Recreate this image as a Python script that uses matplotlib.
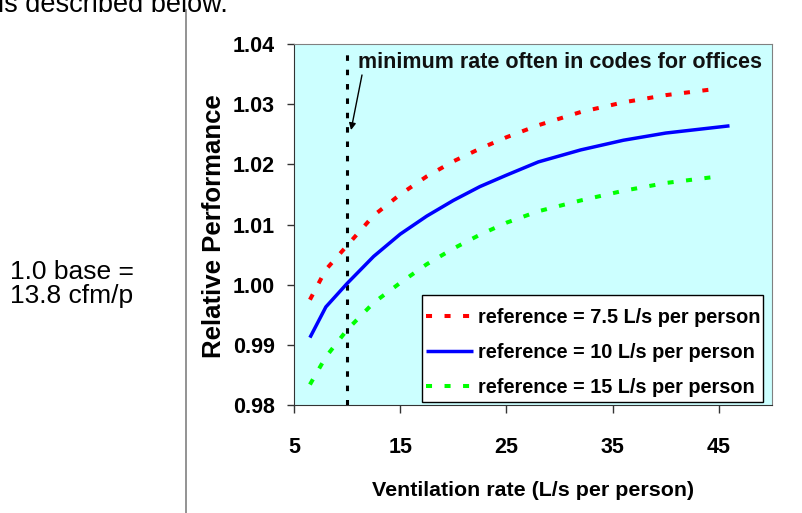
import matplotlib
matplotlib.use("Agg")
import matplotlib.pyplot as plt
from matplotlib.patches import Rectangle

plt.rcParams["font.family"] = ["Liberation Sans", "DejaVu Sans"]

# ventilation rate (L/s per person) and relative performance for three reference rates
vent_10 = [6.5, 8, 10, 12.5, 15, 17.5, 20, 22.5, 25, 28, 32, 36, 40, 46]
perf_10 = [0.9912, 0.9963, 1.0002, 1.0047, 1.0084, 1.0114, 1.0140, 1.0163,
           1.0182, 1.0204, 1.0224, 1.0240, 1.0252, 1.0264]

vent_75 = [6.5, 8, 10, 12.5, 15, 17.5, 20, 22.5, 25, 28, 32, 36, 40, 45]
perf_75 = [0.9975, 1.0025, 1.0065, 1.0115, 1.0150, 1.0180, 1.0205, 1.0226,
           1.0245, 1.0265, 1.0287, 1.0303, 1.0315, 1.0326]

vent_15 = [6.5, 8, 10, 12.5, 15, 17.5, 20, 22.5, 25, 28, 32, 36, 40, 45]
perf_15 = [0.9834, 0.9880, 0.9925, 0.9970, 1.0003, 1.0034, 1.0060, 1.0083,
           1.0103, 1.0122, 1.0140, 1.0156, 1.0169, 1.0180]

code_min = 10
xticks = [5, 15, 25, 35, 45]
yticks = [0.98, 0.99, 1.00, 1.01, 1.02, 1.03, 1.04]

fig = plt.figure(figsize=(8.03, 5.13), dpi=100)
ax = fig.add_axes([294 / 803, 1 - 405 / 513, (772 - 294) / 803, (405 - 44) / 513])
ax.set_facecolor("#CCFFFF")

ax.plot(vent_75, perf_75, color="#FF0000", lw=2.9, dashes=(1.5, 3.1),
        label="reference = 7.5 L/s per person", zorder=3)
ax.plot(vent_10, perf_10, color="#0000FF", lw=2.5, solid_capstyle="butt",
        label="reference = 10 L/s per person", zorder=3)
ax.plot(vent_15, perf_15, color="#00FF00", lw=2.9, dashes=(1.5, 3.1),
        label="reference = 15 L/s per person", zorder=3)

ax.axvline(code_min, ymin=0, ymax=0.975, color="black", lw=2.2,
           dashes=(1.8, 2.9), zorder=2)

ax.text(11.03, 1.0370, "minimum rate often in codes for offices",
        fontsize=15.5, fontweight="bold", ha="left", va="center", color="#111")
ax.annotate("", xy=(10.37, 1.0257), xytext=(11.40, 1.03485),
            arrowprops=dict(arrowstyle="-|>", color="black", lw=1.0,
                            mutation_scale=10, shrinkA=0, shrinkB=0))

ax.set_xlim(5, 50)
ax.set_ylim(0.98, 1.04)
ax.set_xticks(xticks)
ax.set_xticklabels([str(v) for v in xticks], fontsize=15.5, fontweight="bold")
ax.set_yticks(yticks)
ax.set_yticklabels([f"{v:.2f}" for v in yticks], fontsize=15.5, fontweight="bold")
ax.tick_params(axis="x", length=6, width=1, pad=17, color="#333")
ax.tick_params(axis="y", length=5, width=1, pad=9, color="#333")

for side in ("top", "right"):
    ax.spines[side].set_color("#808080")
for side in ("left", "bottom"):
    ax.spines[side].set_color("#333333")

# legend box drawn separately: tight at the sides, roomier top and bottom
ax.add_patch(Rectangle((0.2678, 0.0083), 0.7134, 0.2964, transform=ax.transAxes,
                       facecolor="white", edgecolor="black", lw=1.0, zorder=4))
leg = ax.legend(loc="upper left", bbox_to_anchor=(0.2762, 0.2680),
                prop={"weight": "bold", "size": 14.3}, frameon=False,
                handlelength=2.37, handletextpad=0.25, labelspacing=0.80,
                borderpad=0.0, borderaxespad=0.0)
leg.set_zorder(5)

fig.text(214 / 803, 1 - 226 / 513, "Relative Performance", rotation=90,
         fontsize=18.5, fontweight="bold", ha="center", va="center")
fig.text(533 / 803, 1 - 490 / 513, "Ventilation rate (L/s per person)",
         fontsize=15.4, fontweight="bold", ha="center", va="center")

# slide context around the chart
fig.text(10 / 803, 1 - 284 / 513, "1.0 base =\n13.8 cfm/p", fontsize=19,
         ha="left", va="center", linespacing=0.95)
fig.text(-2 / 803, 1 - 12 / 513, "is described below.", fontsize=19.5,
         ha="left", va="baseline")
fig.add_artist(plt.Line2D([186 / 803, 186 / 803], [0, 1 - 10 / 513],
                          transform=fig.transFigure, color="#808080", lw=1.2))

fig.savefig("out.png", dpi=100, facecolor="white")
